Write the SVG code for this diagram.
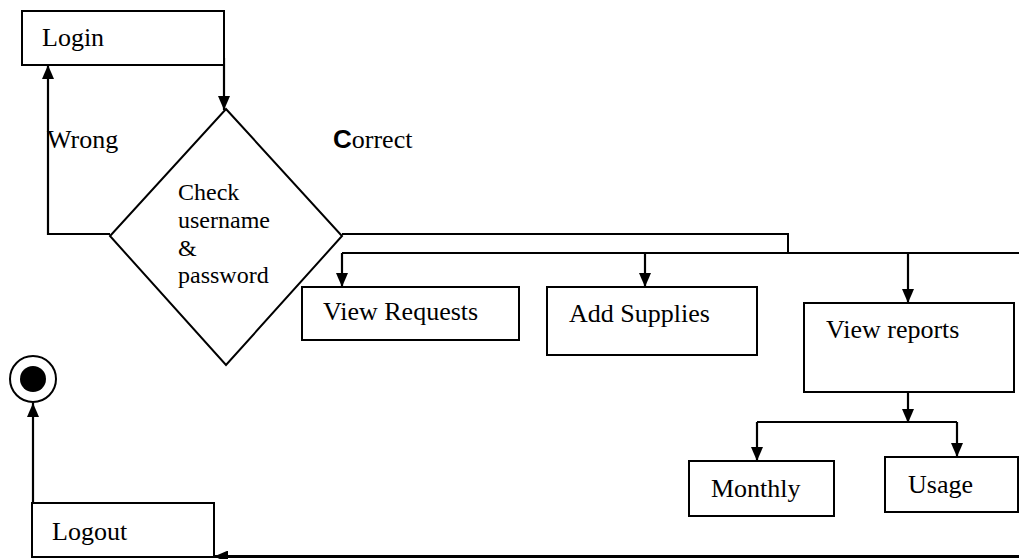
<svg xmlns="http://www.w3.org/2000/svg" width="1019" height="559" viewBox="0 0 1019 559">
  <style>
    .box { fill: #fff; stroke: #000; stroke-width: 2; }
    .lbl { font-family: "Liberation Serif", "Times New Roman", serif; font-size: 26px; fill: #000; }
    .small { font-family: "Liberation Serif", "Times New Roman", serif; font-size: 24px; fill: #000; }
    .cap { font-family: "Liberation Sans", Arial, sans-serif; font-weight: bold; }
    .wire { fill: none; stroke: #000; stroke-width: 2; }
    .wire-arrow { fill: none; stroke: #000; stroke-width: 2.2; marker-end: url(#arrow); }
  </style>
  <defs>
    <marker id="arrow" viewBox="0 0 14 12" refX="14" refY="6" markerWidth="14" markerHeight="12" orient="auto" markerUnits="userSpaceOnUse">
      <path d="M0,0 L14,6 L0,12 z" fill="#000"/>
    </marker>
  </defs>

  <rect width="1019" height="559" fill="#fff"/>

  <!-- connectors -->
  <g id="connectors">
    <path class="wire-arrow" d="M224,58 V110"/>
    <path class="wire-arrow" d="M110,234 H48 V65"/>
    <path class="wire" d="M342,234 H788 V253"/>
    <path class="wire" d="M342,253 H1019"/>
    <path class="wire-arrow" d="M342,253 V287"/>
    <path class="wire-arrow" d="M645,253 V287"/>
    <path class="wire-arrow" d="M908,253 V303"/>
    <path class="wire-arrow" d="M908,392 V423"/>
    <path class="wire" d="M757,422 H957"/>
    <path class="wire-arrow" d="M757,422 V461"/>
    <path class="wire-arrow" d="M957,422 V457"/>
    <path fill="none" stroke="#000" stroke-width="3" marker-end="url(#arrow)" d="M1019,556.5 H214"/>
    <path class="wire-arrow" d="M33,503 V403"/>
  </g>

  <g id="login">
    <rect class="box" x="22" y="11" width="202" height="54"/>
    <text class="lbl" x="42" y="46">Login</text>
  </g>

  <g id="check">
    <polygon points="226,109 342,236 226,365 110,236" fill="#fff" stroke="#000" stroke-width="2"/>
    <text class="small" x="178" y="200">Check</text>
    <text class="small" x="178" y="228">username</text>
    <text class="small" x="178" y="256">&amp;</text>
    <text class="small" x="178" y="283">password</text>
  </g>

  <g id="label-wrong">
    <text class="lbl" x="47" y="148">Wrong</text>
  </g>
  <g id="label-correct">
    <text class="lbl" x="333" y="148"><tspan class="cap">C</tspan>orrect</text>
  </g>

  <g id="view-requests">
    <rect class="box" x="302" y="287" width="217" height="53"/>
    <text class="lbl" x="323" y="320">View Requests</text>
  </g>

  <g id="add-supplies">
    <rect class="box" x="547" y="287" width="210" height="68"/>
    <text class="lbl" x="569" y="322">Add Supplies</text>
  </g>

  <g id="view-reports">
    <rect class="box" x="804" y="303" width="210" height="89"/>
    <text class="lbl" x="826" y="338">View reports</text>
  </g>

  <g id="monthly">
    <rect class="box" x="689" y="461" width="145" height="55"/>
    <text class="lbl" x="711" y="497">Monthly</text>
  </g>

  <g id="usage">
    <rect class="box" x="885" y="457" width="133" height="55"/>
    <text class="lbl" x="908" y="493">Usage</text>
  </g>

  <g id="logout">
    <rect class="box" x="32" y="503" width="182" height="54"/>
    <text class="lbl" x="52" y="540">Logout</text>
  </g>

  <g id="end">
    <circle cx="33" cy="379" r="23" fill="#fff" stroke="#000" stroke-width="2"/>
    <circle cx="33" cy="379" r="13" fill="#000"/>
  </g>
</svg>
